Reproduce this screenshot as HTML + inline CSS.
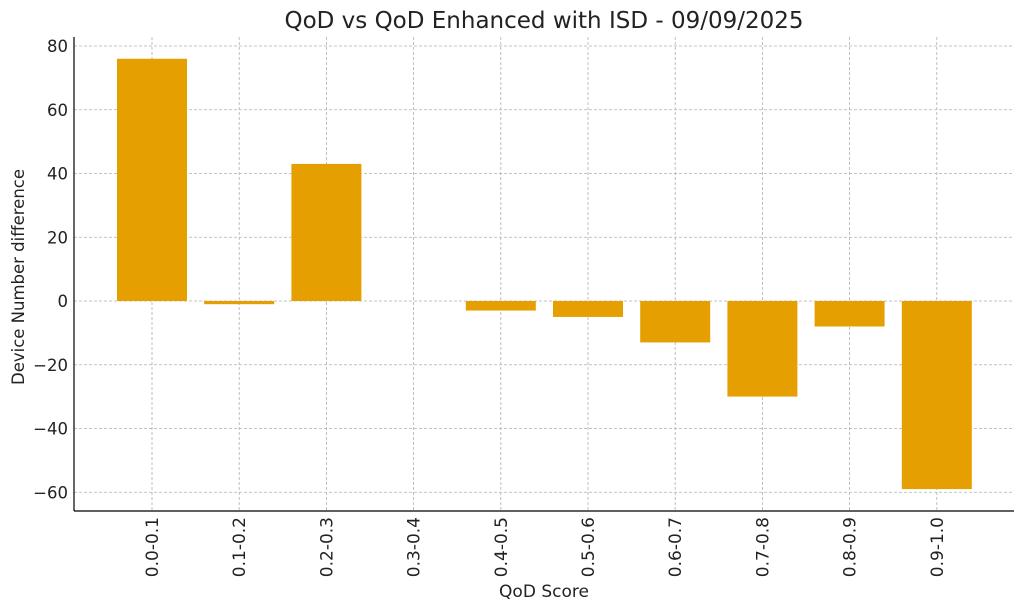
<!DOCTYPE html>
<html><head><meta charset="utf-8"><style>
html,body{margin:0;padding:0;background:#fff;}
svg{display:block;font-family:"DejaVu Sans","Liberation Sans",sans-serif;}
</style></head><body>
<svg width="1024" height="611" viewBox="0 0 1024 611">
<rect width="1024" height="611" fill="#fff"/>
<g stroke="#b0b0b0" stroke-width="0.8" stroke-dasharray="3,2">
<line x1="74" x2="1014" y1="46" y2="46"/>
<line x1="74" x2="1014" y1="109.75" y2="109.75"/>
<line x1="74" x2="1014" y1="173.5" y2="173.5"/>
<line x1="74" x2="1014" y1="237.25" y2="237.25"/>
<line x1="74" x2="1014" y1="301" y2="301"/>
<line x1="74" x2="1014" y1="364.75" y2="364.75"/>
<line x1="74" x2="1014" y1="428.5" y2="428.5"/>
<line x1="74" x2="1014" y1="492.25" y2="492.25"/>
<line y1="37" y2="511" x1="152" x2="152"/>
<line y1="37" y2="511" x1="239.2" x2="239.2"/>
<line y1="37" y2="511" x1="326.4" x2="326.4"/>
<line y1="37" y2="511" x1="413.6" x2="413.6"/>
<line y1="37" y2="511" x1="500.8" x2="500.8"/>
<line y1="37" y2="511" x1="588" x2="588"/>
<line y1="37" y2="511" x1="675.2" x2="675.2"/>
<line y1="37" y2="511" x1="762.4" x2="762.4"/>
<line y1="37" y2="511" x1="849.6" x2="849.6"/>
<line y1="37" y2="511" x1="936.8" x2="936.8"/>
</g>
<g fill="#E69F00">
<rect x="117" y="58.75" width="70" height="242.25"/>
<rect x="204.2" y="301" width="70" height="3.19"/>
<rect x="291.4" y="163.9" width="70" height="137.1"/>
<rect x="465.8" y="301" width="70" height="9.56"/>
<rect x="553" y="301" width="70" height="15.94"/>
<rect x="640.2" y="301" width="70" height="41.44"/>
<rect x="727.4" y="301" width="70" height="95.6"/>
<rect x="814.6" y="301" width="70" height="25.5"/>
<rect x="901.8" y="301" width="70" height="188.1"/>
</g>
<g stroke="#000" stroke-width="1.2">
<line x1="74" x2="74" y1="37" y2="511"/>
<line x1="74" x2="1014" y1="511" y2="511"/>
</g>
<g font-size="16.5" fill="#222" text-anchor="end">
<text x="68" y="52">80</text>
<text x="68" y="115.75">60</text>
<text x="68" y="179.5">40</text>
<text x="68" y="243.25">20</text>
<text x="68" y="307">0</text>
<text x="68" y="370.75">−20</text>
<text x="68" y="434.5">−40</text>
<text x="68" y="498.25">−60</text>
</g>
<g font-size="17" fill="#222" text-anchor="end">
<text transform="translate(158,517) rotate(-90)">0.0-0.1</text>
<text transform="translate(245.2,517) rotate(-90)">0.1-0.2</text>
<text transform="translate(332.4,517) rotate(-90)">0.2-0.3</text>
<text transform="translate(419.6,517) rotate(-90)">0.3-0.4</text>
<text transform="translate(506.8,517) rotate(-90)">0.4-0.5</text>
<text transform="translate(594,517) rotate(-90)">0.5-0.6</text>
<text transform="translate(681.2,517) rotate(-90)">0.6-0.7</text>
<text transform="translate(768.4,517) rotate(-90)">0.7-0.8</text>
<text transform="translate(855.6,517) rotate(-90)">0.8-0.9</text>
<text transform="translate(942.8,517) rotate(-90)">0.9-1.0</text>
</g>
<text x="544" y="28" font-size="23" text-anchor="middle" fill="#222">QoD vs QoD Enhanced with ISD - 09/09/2025</text>
<text x="544" y="597" font-size="17" text-anchor="middle" fill="#222">QoD Score</text>
<text transform="translate(24,277) rotate(-90)" font-size="16.5" text-anchor="middle" fill="#222">Device Number difference</text>
</svg>
</body></html>
